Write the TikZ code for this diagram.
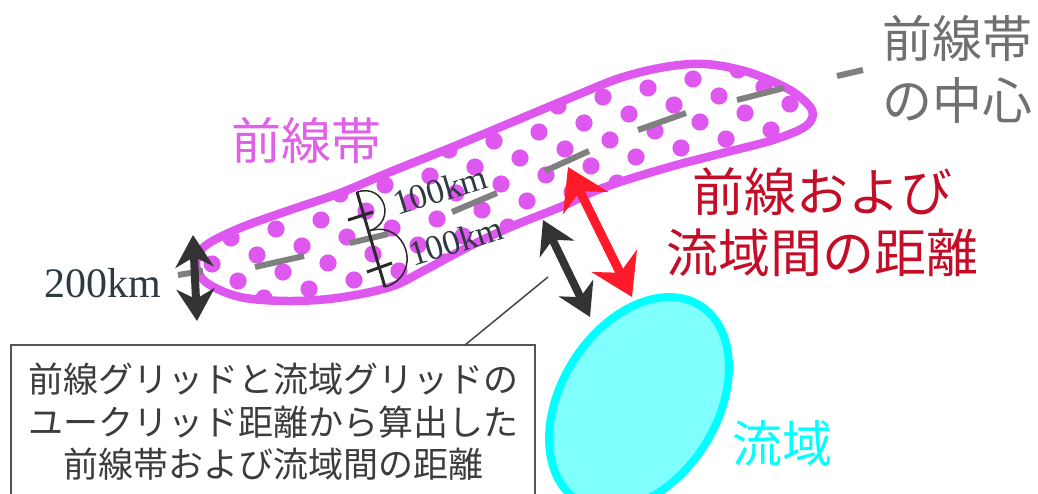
\documentclass[tikz,border=0pt]{standalone}
\usepackage{fontspec}
\newfontfamily\jp{Noto Sans CJK JP}
\newfontfamily\tms{Liberation Serif}
\usetikzlibrary{arrows.meta,calc}
\definecolor{bandpink}{RGB}{222,88,240}
\definecolor{labelpink}{RGB}{224,96,232}
\definecolor{dashgray}{RGB}{128,128,128}
\definecolor{legendgray}{RGB}{112,112,112}
\definecolor{boxgray}{RGB}{85,85,85}
\definecolor{boxtext}{RGB}{60,60,60}
\definecolor{distred}{RGB}{196,14,40}
\definecolor{arrowred}{RGB}{255,26,42}
\definecolor{arrowblack}{RGB}{51,51,51}
\definecolor{kmgray}{RGB}{46,58,66}
\definecolor{basincyan}{RGB}{0,255,255}
\definecolor{basinfill}{RGB}{128,255,255}
\def\bandpath{plot[smooth cycle,tension=0.55] coordinates {
 (196,265) (205,246) (240,228) (290,210) (340,193) (390,172) (450,148)
 (510,123) (570,98) (620,78) (665,67) (705,64) (748,72) (790,90) (812,110)
 (806,126) (773,140) (723,153) (673,166) (623,181) (590,193) (563,206)
 (513,226) (470,246) (425,270) (390,287) (337,298) (287,301) (240,297) (207,283)}}
\begin{document}
\begin{tikzpicture}[x=1pt,y=-1pt,
  dashseg/.style={draw=dashgray,line width=6pt},
  bigjp/.style={font=\jp\fontsize{50}{62}\selectfont,inner sep=0pt},
  kmtext/.style={font=\tms\fontsize{35}{35}\selectfont,text=kmgray,inner sep=0pt},
  redarrow/.style={draw=arrowred,line width=9pt,{Stealth[length=40pt,width=50pt,inset=13pt]}-{Stealth[length=40pt,width=50pt,inset=13pt]}},
  blackarrow/.style={draw=arrowblack,line width=8pt,{Stealth[length=32pt,width=38pt,inset=10pt]}-{Stealth[length=32pt,width=38pt,inset=10pt]}},
  gauge/.style={draw=arrowblack!80!black,line width=3pt},
  gaugearc/.style={draw=arrowblack!80!black,line width=1.5pt}]
\useasboundingbox (0,0) rectangle (1038,494);
\clip (0,0) rectangle (1038,494);
% front band: dots clipped to the band, then outline
\begin{scope}
  \clip \bandpath;
  \foreach \i in {-15,...,6}{
    \foreach \j in {-3,...,7}{
      \fill[bandpink] ({603+45*\i+26*\j},{97-9*\i+17*\j}) circle[radius=8.6];
    }
  }
\end{scope}
\draw[bandpink,line width=8.5pt] \bandpath;
% centre line of the front band
\draw[dashseg] (178,275) -- (203,271);
\draw[dashseg] (255,267) -- (304,256);
\draw[dashseg] (350,243) -- (388,234);
\draw[dashseg] (452,212) -- (497,193);
\draw[dashseg] (545,171) -- (589,151);
\draw[dashseg] (638,130) -- (686,113);
\draw[dashseg] (737,100) -- (784,88);
\draw[dashseg] (837,76) -- (863,70);
% 100 km gauge
\coordinate (gA) at (357,192);
\coordinate (gM) at (369,231);
\coordinate (gB) at (385,287);
\draw[gauge] (gA) -- (gB);
\draw[gauge] (348,220) -- (373,212);
\draw[gauge] (367,272) -- (392,263);
\draw[gaugearc] (gA) .. controls (385,183) and (397,222) .. (gM);
\draw[gaugearc] (gM) .. controls (407,219) and (424,275) .. (gB);
\node[kmtext,rotate=17] (km1) at (440,190) {100km};
\node[kmtext,rotate=17] (km2) at (456,241) {100km};
% basin
\draw[basincyan,fill=basinfill,line width=8pt,rotate around={58:(639,403)}] (639,403) ellipse [x radius=115, y radius=78];
% arrows
\coordinate (rA) at (568,167);
\coordinate (rB) at (632,297);
\coordinate (bA) at (543,220);
\coordinate (bB) at (590,317);
\coordinate (wA) at (193,235);
\coordinate (wB) at (197,321);
\draw[redarrow] (rA) -- (rB);
\draw[blackarrow] (bA) -- (bB);
\draw[blackarrow] (wA) -- (wB);
% explanation box
\node[draw=boxgray,line width=2pt,fill=white,minimum width=524pt,minimum height=154pt,
      inner sep=0pt,align=center,text=boxtext,font=\jp\fontsize{35}{42.5}\selectfont]
  (box) at (273,422) {前線グリッドと流域グリッドの\\ユークリッド距離から算出した\\前線帯および流域間の距離};
\coordinate (lineA) at (465,345);
\coordinate (lineB) at (548,277);
\draw[boxgray!80!black,line width=1.5pt] (lineA) -- (lineB);
% labels
\node[kmtext,font=\tms\fontsize{42}{42}\selectfont] (km200) at (103,283) {200km};
\node[bigjp,text=labelpink] (lblband) at (306,140) {前線帯};
\node[bigjp,text=legendgray,align=center] (lblcentre) at (957,69) {前線帯\\の中心};
\node[bigjp,font=\jp\fontsize{52}{61}\selectfont,text=distred,align=center] (lbldist) at (822,222) {前線および\\流域間の距離};
\node[bigjp,text=basincyan] (lblbasin) at (782,443) {流域};
\end{tikzpicture}
\end{document}
